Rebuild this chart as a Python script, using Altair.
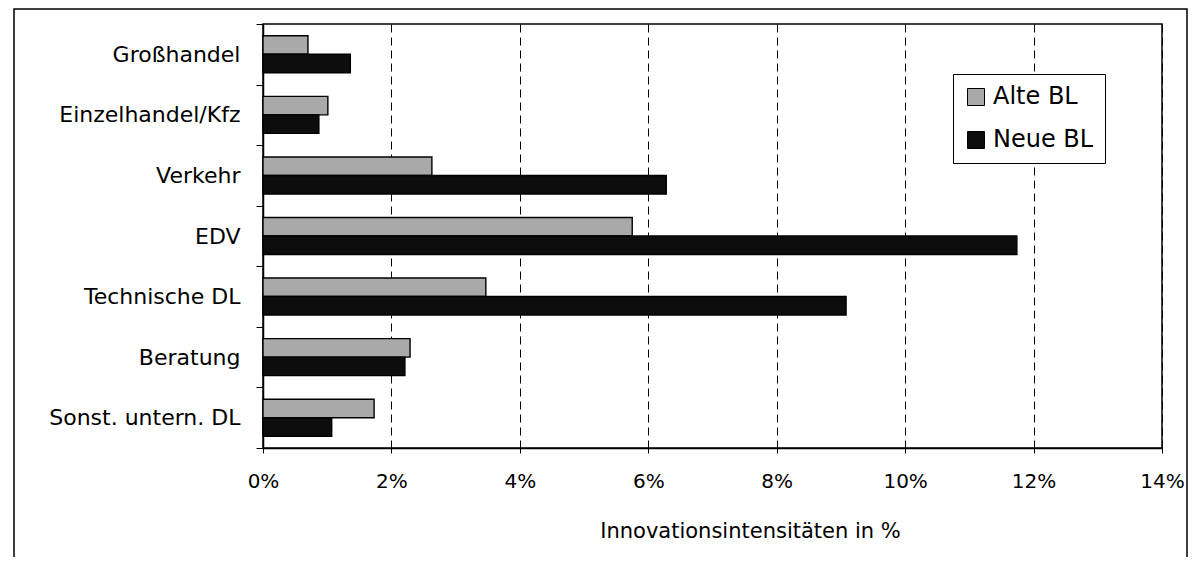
import altair as alt
import pandas as pd

categories = ["Großhandel", "Einzelhandel/Kfz", "Verkehr", "EDV",
              "Technische DL", "Beratung", "Sonst. untern. DL"]
series = ["Alte BL", "Neue BL"]
alte_bl = [0.70, 1.01, 2.63, 5.75, 3.47, 2.29, 1.73]
neue_bl = [1.36, 0.87, 6.28, 11.74, 9.08, 2.21, 1.07]
x_ticks = [0, 2, 4, 6, 8, 10, 12, 14]
colors = ["#a9a9a9", "#0d0d0d"]

rows = []
for c, a, n in zip(categories, alte_bl, neue_bl):
    rows.append({"Branche": c, "Reihe": series[0], "Wert": a / 100})
    rows.append({"Branche": c, "Reihe": series[1], "Wert": n / 100})
df = pd.DataFrame(rows)

FONT = "DejaVu Sans"

bars = alt.Chart(df).mark_bar(stroke="black", strokeWidth=1.4).encode(
    x=alt.X(
        "Wert:Q",
        scale=alt.Scale(domain=[0, 0.14], nice=False),
        axis=alt.Axis(
            values=[t / 100 for t in x_ticks],
            format=".0%",
            title="Innovationsintensitäten in %",
            grid=True,
            gridColor="black",
            gridDash=[8, 5],
            gridWidth=1,
            gridOpacity=1,
            domainColor="black",
            domainWidth=1.5,
            tickColor="black",
            tickSize=5,
            labelFlush=False,
            labelFont=FONT,
            labelFontSize=20,
            labelColor="black",
            labelPadding=18,
            titleFont=FONT,
            titleFontSize=21,
            titleFontWeight="normal",
            titleColor="black",
            titleAlign="center",
            titleBaseline="alphabetic",
            titleX=487,
            titleY=89,
        ),
    ),
    y=alt.Y(
        "Branche:N",
        sort=categories,
        scale=alt.Scale(paddingInner=0, paddingOuter=0),
        axis=alt.Axis(
            title=None,
            tickBand="extent",
            domainColor="black",
            domainWidth=1.5,
            tickColor="black",
            tickSize=7,
            labelFont=FONT,
            labelFontSize=22,
            labelColor="black",
            labelPadding=16,
            labelLimit=400,
        ),
    ),
    yOffset=alt.YOffset(
        "Reihe:N",
        sort=series,
        scale=alt.Scale(paddingInner=0, paddingOuter=0.637),
    ),
    color=alt.Color(
        "Reihe:N",
        scale=alt.Scale(domain=series, range=colors),
        legend=alt.Legend(
            title=None,
            orient="none",
            legendX=690,
            legendY=50,
            direction="vertical",
            fillColor="white",
            strokeColor="black",
            padding=11,
            rowPadding=19,
            symbolType="square",
            symbolSize=289,
            symbolStrokeColor="black",
            symbolStrokeWidth=1,
            symbolOpacity=1,
            labelFont=FONT,
            labelFontSize=24,
            labelColor="black",
            labelOffset=5,
        ),
    ),
)

frame = alt.Chart(pd.DataFrame({"f": [0]})).mark_rect(
    fillOpacity=0, stroke="black", strokeWidth=1.5
).encode(
    x=alt.value(-249), x2=alt.value(924), y=alt.value(-15), y2=alt.value(620)
)

chart = alt.layer(bars, frame).properties(
    width=899,
    height=424,
    padding={"left": 255, "top": 16, "right": 27, "bottom": 109},
    autosize=alt.AutoSizeParams(type="none"),
    background="white",
).configure_view(stroke="black", strokeWidth=1.5)

chart.save("out.html", embed_options={"renderer": "svg", "actions": False})
